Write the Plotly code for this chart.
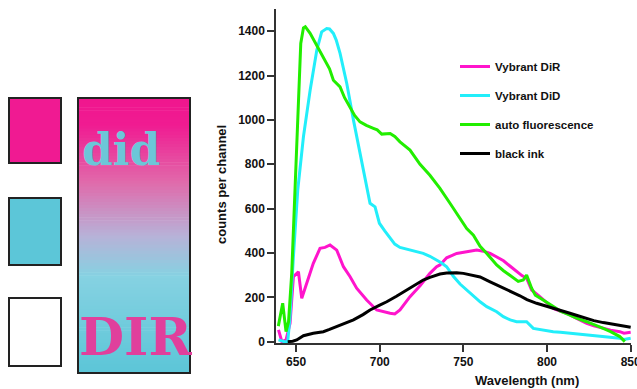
import plotly.graph_objects as go

W, H = 637, 389

# ---- data ----
dir_x = [639.5, 641.5, 644, 646.4, 648.4, 651.4, 653.4, 656.4, 660.3, 664.3, 667.3, 670.3, 674.3,
         678.3, 682.3, 686.2, 692.2, 698.2, 702.2, 706.2, 709, 712.1, 718.1, 724.1, 730, 734, 736,
         740, 746, 750, 754, 758, 762, 766, 770, 774, 778, 781.8, 785, 787.8, 790.8, 795.7, 800,
         803.7, 807, 811.7, 817.7, 823.7, 828, 833.6, 838, 843.5, 846, 850]
dir_y = [53, 0, 8, 83, 293, 315, 196, 263, 353, 421, 425, 436, 413,
         338, 293, 241, 188, 143, 135, 128, 125, 143, 203, 252, 308, 338, 346,
         378, 398, 402, 406, 413, 408, 398, 382, 365, 340, 315, 298, 286, 233, 203, 175,
         150, 140, 128, 105, 83, 72, 60, 52, 45, 38, 42]

did_x = [639.5, 641.5, 643, 645, 646.4, 648.4, 651, 654.4, 658.4, 662.4, 665.3, 668.3, 670,
         672.3, 674, 676.3, 680.3, 684.3, 688.2, 692.2, 694.2, 697.2, 699.8, 703, 706.2, 709,
         712.1, 718.1, 722, 726, 730, 734, 737, 740, 744, 748, 752, 756, 760, 764, 769.9, 773.9,
         778, 781.8, 787.8, 791.8, 797, 803.7, 808, 813.7, 818, 823.7, 828, 833.6, 838, 843.5,
         846, 850]
did_y = [8, 2, 0, 0, 113, 383, 684, 924, 1134, 1315, 1397, 1412, 1410,
         1390, 1360, 1300, 1164, 999, 849, 698, 624, 608, 534, 500, 465, 440,
         425, 413, 408, 398, 385, 370, 355, 338, 295, 260, 233, 205, 180, 158, 135, 113,
         98, 90, 90, 60, 52, 45, 42, 38, 36, 30, 28, 23, 20, 15,
         10, 15]

auto_x = [639.4, 642, 644, 645.5, 647.4, 649.4, 651.4, 652.8, 654.4, 655.5, 658.4, 662, 666.3,
          670, 672.3, 676.3, 679, 682.3, 685, 688.2, 692, 696.2, 698.5, 701.2, 706.2, 709, 712.1,
          718.1, 724.1, 730, 736, 742, 749, 752, 756, 760, 764, 769.9, 774, 777.8, 782.8, 785.8,
          787.8, 790.8, 793, 797.7, 803.7, 808, 813.7, 818, 823.7, 828, 833.6, 838, 843.5, 846.5]
auto_y = [70, 173, 45, 90, 308, 684, 1044, 1345, 1415, 1420, 1390, 1340, 1284,
          1230, 1179, 1149, 1100, 1059, 1020, 991, 975, 962, 955, 936, 939, 925, 901,
          864, 800, 750, 691, 624, 540, 510, 480, 430, 398, 346, 320, 300, 272, 278,
          300, 241, 210, 188, 158, 138, 120, 105, 90, 78, 60, 45, 23, 0]

ink_x = [645, 648, 650.4, 654.4, 660.3, 666.3, 670, 674.3, 680, 684.3, 690, 694.2, 700, 704.2,
         710, 716.1, 720, 726, 730, 736, 740, 746, 750, 755.9, 760, 766, 770, 775.9, 780, 783.8,
         788, 793.8, 800, 803.7, 808, 813.7, 818, 823.7, 828, 833.6, 838, 843.5, 846, 850]
ink_y = [0, 2, 8, 27, 38, 45, 55, 68, 85, 98, 122, 143, 165, 180,
         205, 233, 250, 278, 290, 305, 310, 311, 308, 300, 292, 270, 255, 235, 220, 207,
         190, 173, 160, 150, 140, 128, 118, 105, 95, 86, 80, 75, 70, 65]

series_names = ["Vybrant DiR", "Vybrant DiD", "auto fluorescence", "black ink"]
series_x = [dir_x, did_x, auto_x, ink_x]
series_y = [dir_y, did_y, auto_y, ink_y]
series_colors = ["#ff14cc", "#22eefa", "#22ee00", "#000000"]

x_ticks = [650, 700, 750, 800, 850]
y_ticks = [0, 200, 400, 600, 800, 1000, 1200, 1400]

# ---- figure ----
def px(x):
    return x / W

def py(y):
    return 1 - y / H

fig = go.Figure()
for name, xs, ys, col in zip(series_names, series_x, series_y, series_colors):
    fig.add_trace(go.Scatter(x=xs, y=ys, mode="lines", name=name, legendgroup=name,
                             line=dict(color=col, width=3), hoverinfo="skip"))

axis_font = dict(family="Liberation Sans, Arial", size=12, color="#111", weight="bold")

fig.update_layout(
    width=W, height=H,
    margin=dict(l=0, r=0, t=0, b=0, autoexpand=False),
    paper_bgcolor="white", plot_bgcolor="white",
    showlegend=True,
    legend=dict(x=px(455), y=py(52), xanchor="left", yanchor="top",
                font=dict(family="Liberation Sans, Arial", size=11.5, color="#111", weight="bold"),
                tracegroupgap=10, bgcolor="rgba(0,0,0,0)"),
    xaxis=dict(domain=[px(276), px(631)], range=[638, 850.2], tickvals=x_ticks,
               showgrid=False, zeroline=False, showline=True, linecolor="#333", linewidth=1.5,
               ticks="outside", ticklen=7, tickwidth=1.5, tickcolor="#333",
               tickfont=axis_font, anchor="y", ticklabeloverflow="allow", automargin=False),
    yaxis=dict(domain=[py(343), py(9)], range=[-6, 1500], tickvals=y_ticks,
               showgrid=False, zeroline=False, showline=True, linecolor="#333", linewidth=1.5,
               ticks="outside", ticklen=7, tickwidth=1.5, tickcolor="#333",
               tickfont=axis_font, anchor="x", automargin=False),
)

# axis titles
fig.add_annotation(x=px(527), y=py(380), xref="paper", yref="paper", text="Wavelength (nm)",
                   showarrow=False, xanchor="center", yanchor="middle",
                   font=dict(family="Liberation Sans, Arial", size=13, color="#111", weight="bold"))
fig.add_annotation(x=px(222), y=py(185), xref="paper", yref="paper", text="counts per channel",
                   showarrow=False, textangle=-90, xanchor="center", yanchor="middle",
                   font=dict(family="Liberation Sans, Arial", size=13, color="#111", weight="bold"))

# ---- left colour panel ----
def hex2rgb(h):
    h = h.lstrip("#")
    return tuple(int(h[i:i + 2], 16) for i in (0, 2, 4))

stops = [(0.0, "#f0168e"), (0.10, "#f01c92"), (0.30, "#e268aa"), (0.50, "#b8b2d8"),
         (0.65, "#86d2e2"), (1.0, "#5cc6d8")]

def grad(t):
    for (t0, c0), (t1, c1) in zip(stops[:-1], stops[1:]):
        if t0 <= t <= t1:
            a = (t - t0) / (t1 - t0) if t1 > t0 else 0
            r0, g0, b0 = hex2rgb(c0)
            r1, g1, b1 = hex2rgb(c1)
            return "rgb(%d,%d,%d)" % (r0 + (r1 - r0) * a, g0 + (g1 - g0) * a, b0 + (b1 - b0) * a)
    return stops[-1][1]

bx0, bx1, by0, by1 = 78, 190, 98, 373
n = 90
for i in range(n):
    ya = by0 + (by1 - by0) * i / n
    yb = by0 + (by1 - by0) * (i + 1) / n + 0.6
    fig.add_shape(type="rect", xref="paper", yref="paper",
                  x0=px(bx0), x1=px(bx1), y0=py(yb), y1=py(ya),
                  fillcolor=grad((i + 0.5) / n), line=dict(width=0), layer="below")
fig.add_shape(type="rect", xref="paper", yref="paper", x0=px(bx0), x1=px(bx1), y0=py(by1), y1=py(by0),
              line=dict(color="#222", width=2), fillcolor="rgba(0,0,0,0)")

squares = [(98, 163, "#f01a92"), (198, 265, "#5cc6d8"), (298, 366, "#ffffff")]
for t, b, c in squares:
    fig.add_shape(type="rect", xref="paper", yref="paper", x0=px(9), x1=px(61), y0=py(b), y1=py(t),
                  fillcolor=c, line=dict(color="#222", width=2))

fig.add_annotation(x=px(121), y=py(149), xref="paper", yref="paper", text="<b>did</b>",
                   showarrow=False, xanchor="center", yanchor="middle",
                   font=dict(family="DejaVu Serif", size=44, color="#6cc6d8"))
fig.add_annotation(x=px(135), y=py(336), xref="paper", yref="paper", text="<b>DIR</b>",
                   showarrow=False, xanchor="center", yanchor="middle",
                   font=dict(family="DejaVu Serif", size=52, color="#e0409c"))

fig.write_html("out.html",
               config={"displayModeBar": False},
               post_script="document.body.style.margin='0';document.body.style.padding='0';"
                           "document.documentElement.style.overflow='hidden';")
